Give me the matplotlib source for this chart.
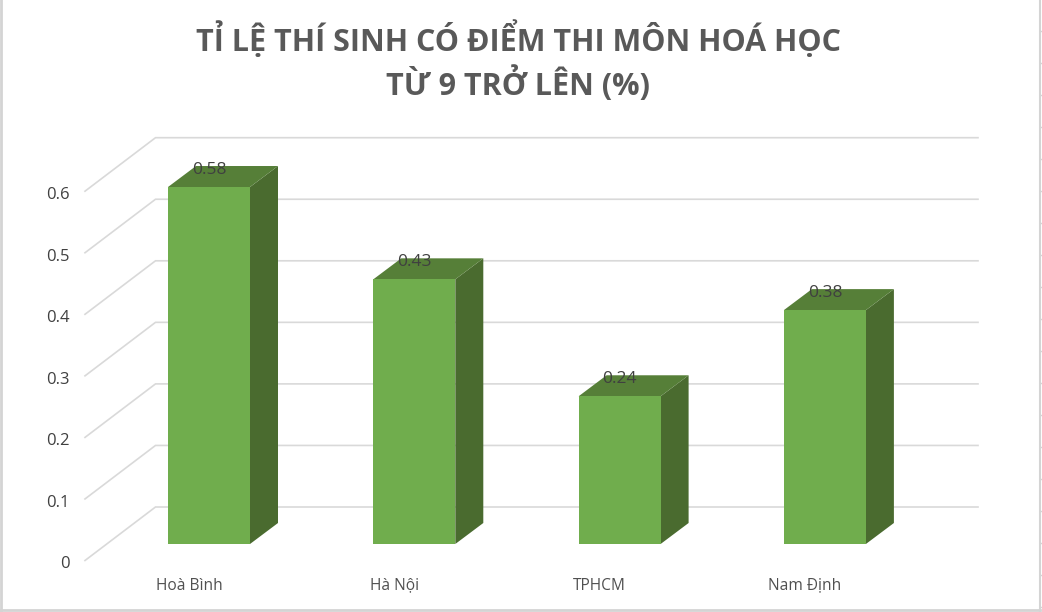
import matplotlib
matplotlib.use('Agg')
import matplotlib.pyplot as plt
from matplotlib.patches import Polygon

# Data
categories = ['Hoà Bình', 'Hà Nội', 'TPHCM', 'Nam Định']
values = [0.58, 0.43, 0.24, 0.38]
value_labels = ['0.58', '0.43', '0.24', '0.38']
y_ticks = [0, 0.1, 0.2, 0.3, 0.4, 0.5, 0.6]
y_tick_labels = ['0', '0.1', '0.2', '0.3', '0.4', '0.5', '0.6']

W, H = 1042, 612
X_UNIT = 205.3   # pixels per category
Y_UNIT = 615.5   # pixels per 1.0 of value
X0 = 209         # pixel of the first category
Y0 = 544         # pixel of value 0 on the bar front

plt.rcParams['font.family'] = ['Open Sans', 'DejaVu Sans']

fig = plt.figure(figsize=(W / 100, H / 100), dpi=100, facecolor='white')
ax = fig.add_axes([0, 0, 1, 1])
ax.set_xlim(-X0 / X_UNIT, (W - X0) / X_UNIT)
ax.set_ylim((Y0 - H) / Y_UNIT, Y0 / Y_UNIT)
ax.axis('off')

# 3D offsets in data units
bar_w = 82 / X_UNIT
side_dx = 28 / X_UNIT
side_dy = 21 / Y_UNIT
grid_x0 = (85 - X0) / X_UNIT
grid_x1 = (155.5 - X0) / X_UNIT
grid_x2 = (978 - X0) / X_UNIT
grid_front = -16.5 / Y_UNIT
grid_back = 37 / Y_UNIT

grid_color = '#d9d9d9'
for t, lab in zip(y_ticks, y_tick_labels):
    ax.plot([grid_x0, grid_x1, grid_x2], [t + grid_front, t + grid_back, t + grid_back],
            color=grid_color, lw=1.2, zorder=1, solid_joinstyle='miter')
    ax.text(grid_x0 - 15.5 / X_UNIT, t + grid_front - 4 / Y_UNIT, lab, ha='right', va='center',
            fontsize=12, color='#404040')

for i, (v, name, lab) in enumerate(zip(values, categories, value_labels)):
    l, r = i - bar_w / 2, i + bar_w / 2
    ax.add_patch(Polygon([(r, 0), (r + side_dx, side_dy), (r + side_dx, v + side_dy), (r, v)],
                         fc='#4a6b2f', ec='none', zorder=3))
    ax.add_patch(Polygon([(l, v), (r, v), (r + side_dx, v + side_dy), (l + side_dx, v + side_dy)],
                         fc='#567f38', ec='none', zorder=3))
    ax.add_patch(Polygon([(l, 0), (r, 0), (r, v), (l, v)], fc='#70ad4d', ec='none', zorder=4))
    ax.text(i, v + 17.5 / Y_UNIT, lab, ha='center', va='center', fontsize=12.5,
            color='#404040', zorder=5)
    # baseline so all four names sit on one line
    ax.text(i - 20 / X_UNIT, -45.5 / Y_UNIT, name, ha='center', va='baseline', fontsize=11.2,
            color='#505050')

# Title
fig.text(519 / W, 1 - 39 / H, 'TỈ LỆ THÍ SINH CÓ ĐIỂM THI MÔN HOÁ HỌC', ha='center', va='center',
         fontsize=22, fontweight='bold', color='#595959')
fig.text(518 / W, 1 - 84 / H, 'TỪ 9 TRỞ LÊN (%)', ha='center', va='center',
         fontsize=22, fontweight='bold', color='#595959')

# Sheet border around the picture
border = '#d4d4d4'
fig.add_artist(plt.Line2D([1 / W, 1 / W], [0, 1], color=border, lw=2))
fig.add_artist(plt.Line2D([0, 1040 / W], [1 - 610 / H, 1 - 610 / H], color=border, lw=2))
fig.add_artist(plt.Line2D([1039.5 / W, 1039.5 / W], [0, 1], color=border, lw=1.5))
for k in range(19):
    y = 1 - (30.7 + 32 * k) / H
    fig.add_artist(plt.Line2D([1039.5 / W, 1], [y, y], color=border, lw=1))

fig.savefig('out.png', dpi=100)
